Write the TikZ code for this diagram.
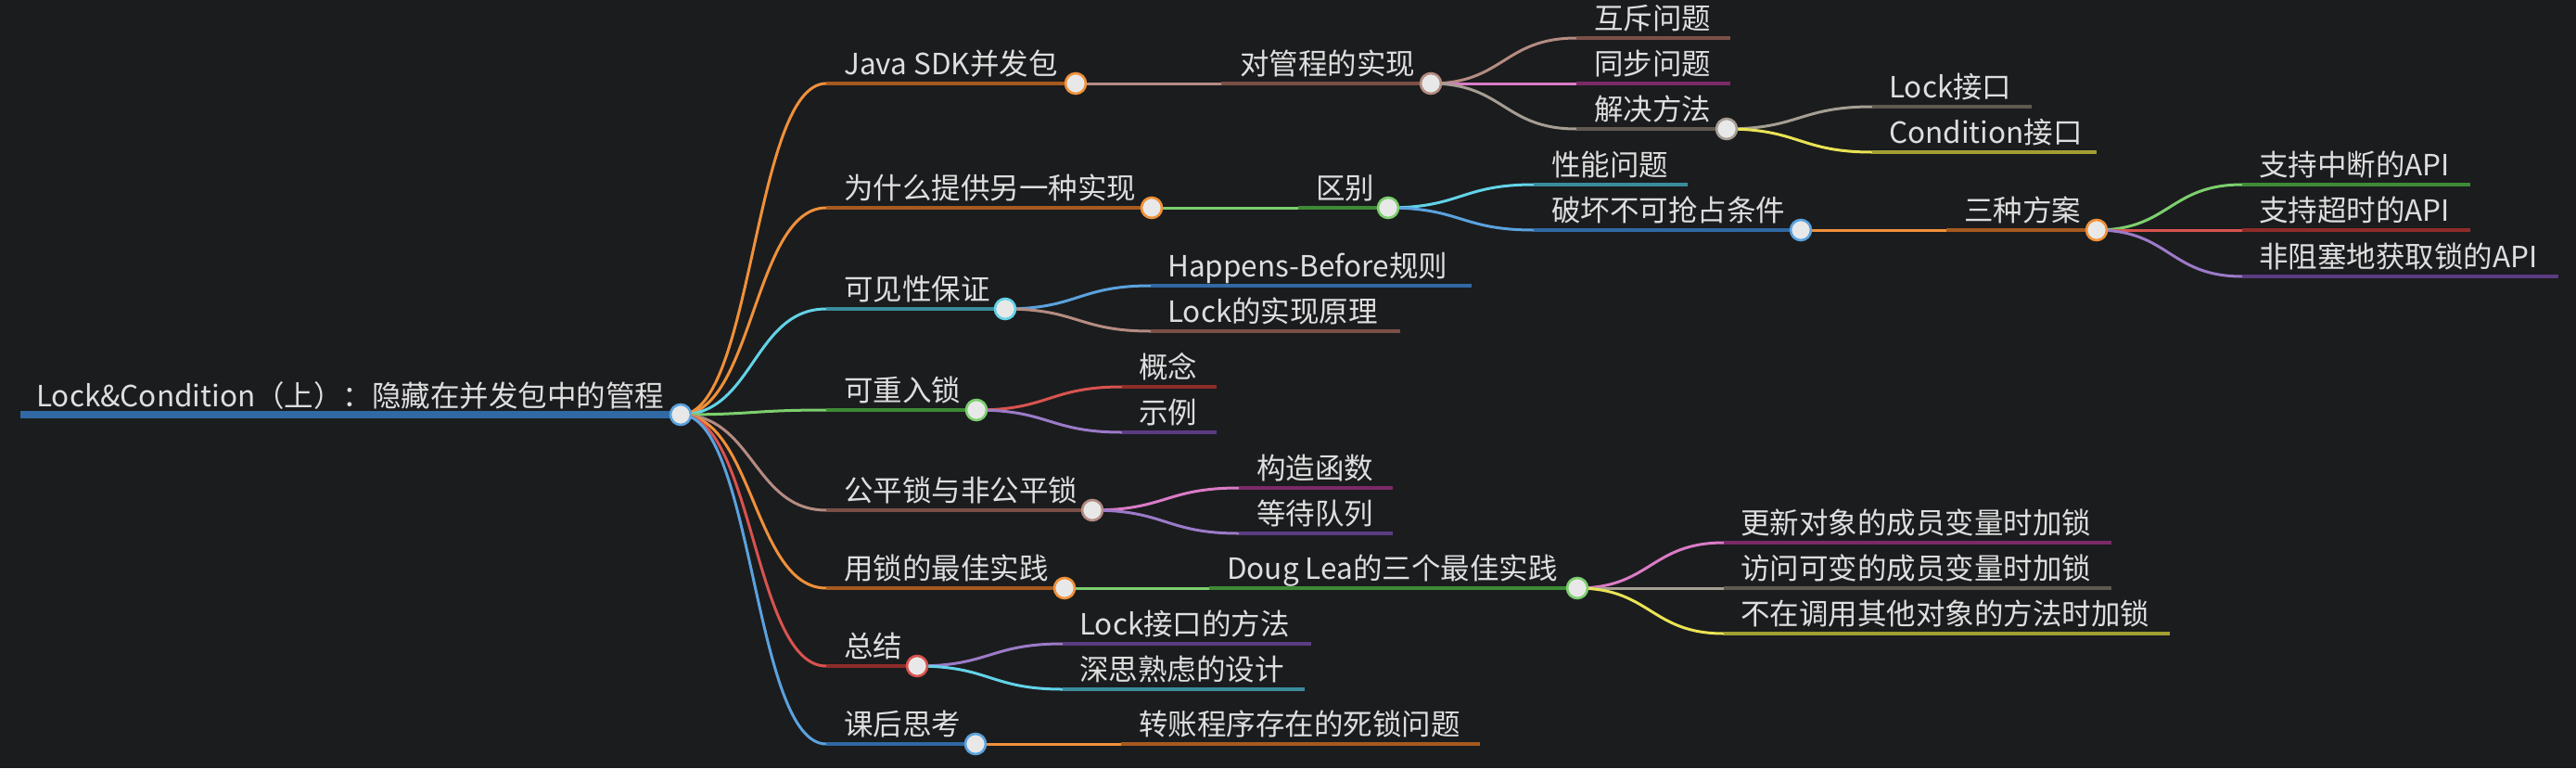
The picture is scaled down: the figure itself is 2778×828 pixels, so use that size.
\documentclass[tikz,border=0pt]{standalone}
\usepackage{fontspec}
\setmainfont{Noto Sans CJK SC}
\usetikzlibrary{calc}
\definecolor{bgc}{RGB}{27,28,30}
\definecolor{tc}{RGB}{222,222,222}
\definecolor{dotfill}{RGB}{232,232,232}
\definecolor{orL}{HTML}{F0913A}\definecolor{orD}{HTML}{A65A1F}
\definecolor{cyL}{HTML}{62D3E8}\definecolor{cyD}{HTML}{3A8C9B}
\definecolor{grL}{HTML}{7CCF6E}\definecolor{grD}{HTML}{3E8A36}
\definecolor{brL}{HTML}{B48C82}\definecolor{brD}{HTML}{7A5046}
\definecolor{rdL}{HTML}{D9534F}\definecolor{rdD}{HTML}{8E2C2A}
\definecolor{blL}{HTML}{5BA2DE}\definecolor{blD}{HTML}{3069A3}
\definecolor{pkL}{HTML}{DA7BC6}\definecolor{pkD}{HTML}{7B2A68}
\definecolor{puL}{HTML}{9C7AC8}\definecolor{puD}{HTML}{5B3C82}
\definecolor{gyL}{HTML}{A59E93}\definecolor{gyD}{HTML}{5F5950}
\definecolor{yeL}{HTML}{E9E355}\definecolor{yeD}{HTML}{A29F33}
\newcommand\mmfont{\fontsize{31.5pt}{38pt}\selectfont}
\pgfdeclarelayer{back}\pgfdeclarelayer{bg}
\pgfsetlayers{back,bg,main}
\tikzset{
  txt/.style={anchor=base west, inner sep=0pt, text=tc, font=\mmfont},
  mmdot/.style={circle, draw=#1, line width=2.6pt, fill=dotfill, minimum size=22pt, inner sep=0pt},
  lk/.style={draw=#1, line width=3pt, to path={let \p1=(\tikztostart), \p2=(\tikztotarget), \n1={(\x1+\x2)/2} in .. controls (\n1,\y1) and (\n1,\y2) .. (\tikztotarget)}},
  ul/.style={draw=#1, line width=3.2pt},
}
\begin{document}
\begin{tikzpicture}[x=1pt,y=-1pt]
\begin{pgfonlayer}{back}
\fill[bgc] (0,0) rectangle (2778,828);
\end{pgfonlayer}
\useasboundingbox (0,0) rectangle (2778,828);
% root
\coordinate (Rs) at (22,447);
\node[mmdot=blL] (R) at (734,447) {};
\node[txt] (Rt) at (39,438) {Lock\&Condition（上）：隐藏在并发包中的管程};
% level 1
\coordinate (As) at (891,90);  \node[txt] (At) at (910,80) {Java SDK并发包};     \node[mmdot=orL] (A) at (1160,90) {};
\coordinate (Bs) at (891,224); \node[txt] (Bt) at (910,214) {为什么提供另一种实现}; \node[mmdot=orL] (B) at (1242,224) {};
\coordinate (Cs) at (891,333); \node[txt] (Ct) at (910,323) {可见性保证};         \node[mmdot=cyL] (C) at (1084,333) {};
\coordinate (Ds) at (891,442); \node[txt] (Dt) at (910,432) {可重入锁};           \node[mmdot=grL] (D) at (1053,442) {};
\coordinate (Es) at (891,550); \node[txt] (Et) at (910,540) {公平锁与非公平锁};   \node[mmdot=brL] (E) at (1178,550) {};
\coordinate (Fs) at (891,634); \node[txt] (Ft) at (910,624) {用锁的最佳实践};     \node[mmdot=orL] (F) at (1148,634) {};
\coordinate (Gs) at (891,718); \node[txt] (Gt) at (910,708) {总结};               \node[mmdot=rdL] (G) at (989,718) {};
\coordinate (Hs) at (891,802); \node[txt] (Ht) at (910,792) {课后思考};           \node[mmdot=blL] (H) at (1052,802) {};
% A subtree
\coordinate (A1s) at (1317,90); \node[txt] (A1t) at (1337,80) {对管程的实现}; \node[mmdot=brL] (A1) at (1543,90) {};
\coordinate (A1as) at (1700,41);  \node[txt] (A1at) at (1719,31) {互斥问题}; \coordinate (A1a) at (1866,41);
\coordinate (A1bs) at (1700,90);  \node[txt] (A1bt) at (1719,80) {同步问题}; \coordinate (A1b) at (1866,90);
\coordinate (A1cs) at (1700,139); \node[txt] (A1ct) at (1719,129) {解决方法}; \node[mmdot=gyL] (A1c) at (1862,139) {};
\coordinate (L1s) at (2019,115); \node[txt] (L1t) at (2037,105) {Lock接口}; \coordinate (L1) at (2191,115);
\coordinate (L2s) at (2019,164); \node[txt] (L2t) at (2037,154) {Condition接口}; \coordinate (L2) at (2261,164);
% B subtree
\coordinate (B1s) at (1400,224); \node[txt] (B1t) at (1419,214) {区别}; \node[mmdot=grL] (B1) at (1497,224) {};
\coordinate (B1as) at (1654,199); \node[txt] (B1at) at (1673,189) {性能问题}; \coordinate (B1a) at (1820,199);
\coordinate (B1bs) at (1654,248); \node[txt] (B1bt) at (1673,238) {破坏不可抢占条件}; \node[mmdot=blL] (B1b) at (1942,248) {};
\coordinate (S3s) at (2099,248); \node[txt] (S3t) at (2118,238) {三种方案}; \node[mmdot=orL] (S3) at (2261,248) {};
\coordinate (S3as) at (2418,199); \node[txt] (S3at) at (2436,189) {支持中断的API}; \coordinate (S3a) at (2664,199);
\coordinate (S3bs) at (2418,248); \node[txt] (S3bt) at (2436,238) {支持超时的API}; \coordinate (S3b) at (2664,248);
\coordinate (S3cs) at (2418,298); \node[txt] (S3ct) at (2436,288) {非阻塞地获取锁的API}; \coordinate (S3c) at (2759,298);
% C subtree
\coordinate (C1s) at (1241,308); \node[txt] (C1t) at (1259,298) {Happens-Before规则}; \coordinate (C1) at (1587,308);
\coordinate (C2s) at (1241,357); \node[txt] (C2t) at (1259,347) {Lock的实现原理}; \coordinate (C2) at (1510,357);
% D subtree
\coordinate (D1s) at (1210,417); \node[txt] (D1t) at (1228,407) {概念}; \coordinate (D1) at (1312,417);
\coordinate (D2s) at (1210,466); \node[txt] (D2t) at (1228,456) {示例}; \coordinate (D2) at (1312,466);
% E subtree
\coordinate (E1s) at (1336,526); \node[txt] (E1t) at (1355,516) {构造函数}; \coordinate (E1) at (1502,526);
\coordinate (E2s) at (1336,575); \node[txt] (E2t) at (1355,565) {等待队列}; \coordinate (E2) at (1502,575);
% F subtree
\coordinate (F1s) at (1304,634); \node[txt] (F1t) at (1323,624) {Doug Lea的三个最佳实践}; \node[mmdot=grL] (F1) at (1701,634) {};
\coordinate (F1as) at (1859,585); \node[txt] (F1at) at (1877,575) {更新对象的成员变量时加锁}; \coordinate (F1a) at (2277,585);
\coordinate (F1bs) at (1859,634); \node[txt] (F1bt) at (1877,624) {访问可变的成员变量时加锁}; \coordinate (F1b) at (2277,634);
\coordinate (F1cs) at (1859,683); \node[txt] (F1ct) at (1877,673) {不在调用其他对象的方法时加锁}; \coordinate (F1c) at (2340,683);
% G subtree
\coordinate (G1s) at (1146,694); \node[txt] (G1t) at (1164,684) {Lock接口的方法}; \coordinate (G1) at (1414,694);
\coordinate (G2s) at (1146,743); \node[txt] (G2t) at (1164,733) {深思熟虑的设计}; \coordinate (G2) at (1407,743);
% H subtree
\coordinate (H1s) at (1209,802); \node[txt] (H1t) at (1228,792) {转账程序存在的死锁问题}; \coordinate (H1) at (1596,802);

\begin{pgfonlayer}{bg}
\draw[ul=blD, line width=8pt] (Rs) -- (R.center);
% root links
\draw[lk=orL] (R.center) to (As);  \draw[ul=orD] (As) -- (A.center);
\draw[lk=orL] (R.center) to (Bs);  \draw[ul=orD] (Bs) -- (B.center);
\draw[lk=cyL] (R.center) to (Cs);  \draw[ul=cyD] (Cs) -- (C.center);
\draw[lk=grL] (R.center) to (Ds);  \draw[ul=grD] (Ds) -- (D.center);
\draw[lk=brL] (R.center) to (Es);  \draw[ul=brD] (Es) -- (E.center);
\draw[lk=orL] (R.center) to (Fs);  \draw[ul=orD] (Fs) -- (F.center);
\draw[lk=rdL] (R.center) to (Gs);  \draw[ul=rdD] (Gs) -- (G.center);
\draw[lk=blL] (R.center) to (Hs);  \draw[ul=blD] (Hs) -- (H.center);
% A
\draw[lk=brL] (A.center) to (A1s); \draw[ul=brD] (A1s) -- (A1.center);
\draw[lk=brL] (A1.center) to (A1as); \draw[ul=brD] (A1as) -- (A1a);
\draw[lk=pkL] (A1.center) to (A1bs); \draw[ul=pkD] (A1bs) -- (A1b);
\draw[lk=gyL] (A1.center) to (A1cs); \draw[ul=gyD] (A1cs) -- (A1c.center);
\draw[lk=gyL] (A1c.center) to (L1s); \draw[ul=gyD] (L1s) -- (L1);
\draw[lk=yeL] (A1c.center) to (L2s); \draw[ul=yeD] (L2s) -- (L2);
% B
\draw[lk=grL] (B.center) to (B1s); \draw[ul=grD] (B1s) -- (B1.center);
\draw[lk=cyL] (B1.center) to (B1as); \draw[ul=cyD] (B1as) -- (B1a);
\draw[lk=blL] (B1.center) to (B1bs); \draw[ul=blD] (B1bs) -- (B1b.center);
\draw[lk=orL] (B1b.center) to (S3s); \draw[ul=orD] (S3s) -- (S3.center);
\draw[lk=grL] (S3.center) to (S3as); \draw[ul=grD] (S3as) -- (S3a);
\draw[lk=rdL] (S3.center) to (S3bs); \draw[ul=rdD] (S3bs) -- (S3b);
\draw[lk=puL] (S3.center) to (S3cs); \draw[ul=puD] (S3cs) -- (S3c);
% C
\draw[lk=blL] (C.center) to (C1s); \draw[ul=blD] (C1s) -- (C1);
\draw[lk=brL] (C.center) to (C2s); \draw[ul=brD] (C2s) -- (C2);
% D
\draw[lk=rdL] (D.center) to (D1s); \draw[ul=rdD] (D1s) -- (D1);
\draw[lk=puL] (D.center) to (D2s); \draw[ul=puD] (D2s) -- (D2);
% E
\draw[lk=pkL] (E.center) to (E1s); \draw[ul=pkD] (E1s) -- (E1);
\draw[lk=puL] (E.center) to (E2s); \draw[ul=puD] (E2s) -- (E2);
% F
\draw[lk=grL] (F.center) to (F1s); \draw[ul=grD] (F1s) -- (F1.center);
\draw[lk=pkL] (F1.center) to (F1as); \draw[ul=pkD] (F1as) -- (F1a);
\draw[lk=gyL] (F1.center) to (F1bs); \draw[ul=gyD] (F1bs) -- (F1b);
\draw[lk=yeL] (F1.center) to (F1cs); \draw[ul=yeD] (F1cs) -- (F1c);
% G
\draw[lk=puL] (G.center) to (G1s); \draw[ul=puD] (G1s) -- (G1);
\draw[lk=cyL] (G.center) to (G2s); \draw[ul=cyD] (G2s) -- (G2);
% H
\draw[lk=orL] (H.center) to (H1s); \draw[ul=orD] (H1s) -- (H1);
\end{pgfonlayer}
\end{tikzpicture}
\end{document}
